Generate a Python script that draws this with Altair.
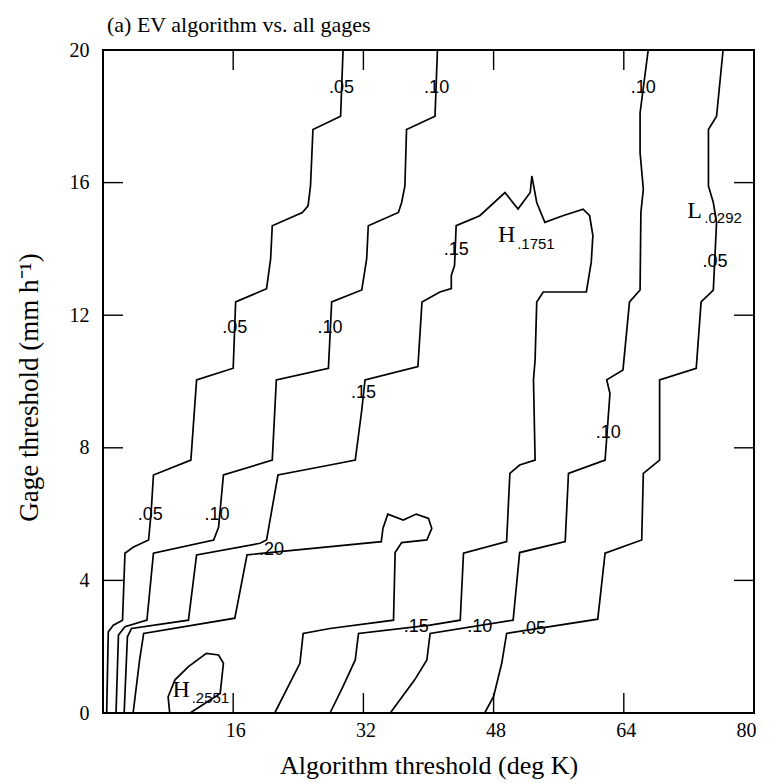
import altair as alt
import pandas as pd

# ---------------- data ----------------
# contour polylines: x = algorithm threshold (deg K), y = gage threshold (mm/h)
C05_LEFT_X = [0.45, 0.65, 1.27, 2.4, 2.7, 3.7, 5.6, 5.9, 6.2, 10.8, 11.5, 16.0, 16.3, 20.1, 20.6, 20.8, 24.5, 25.2, 25.5, 25.8, 29.2, 29.5]
C05_LEFT_Y = [0, 2.45, 2.65, 2.8, 4.82, 5.0, 5.22, 6.0, 7.18, 7.63, 10.05, 10.4, 12.4, 12.8, 13.7, 14.7, 15.1, 15.3, 15.9, 17.6, 18.0, 20]

C10_LEFT_X = [1.6, 1.9, 2.7, 5.4, 6.2, 13.6, 14.2, 14.8, 20.8, 21.3, 27.7, 28.1, 31.8, 32.4, 32.6, 36.3, 36.7, 37.1, 37.3, 40.8, 41.1]
C10_LEFT_Y = [0, 2.35, 2.6, 2.8, 4.82, 5.22, 5.6, 7.18, 7.63, 10.05, 10.4, 12.4, 12.76, 13.7, 14.7, 15.1, 15.4, 15.9, 17.6, 18.0, 20]

C15_X = [2.6, 3.0, 3.5, 10.5, 11.5, 19.3, 20.1, 21.5, 27.9, 31.0, 31.8, 32.2, 38.7, 39.2, 41.4,
         42.8, 42.8, 43.2, 43.4, 46.3, 49.4, 51.0, 52.5, 52.7, 53.3, 54.3, 56.5, 59.0, 59.8, 60.2,
         60.0, 59.4, 54.1, 53.3, 53.1, 52.9, 53.1, 51.2, 50.0, 49.6, 44.3, 43.9, 40.2, 31.4, 31.0, 29.5, 27.9]
C15_Y = [0, 2.3, 2.55, 2.8, 4.77, 5.12, 5.22, 7.18, 7.48, 7.63, 9.14, 10.05, 10.45, 12.4, 12.7,
         12.8, 13.2, 13.5, 14.7, 15.0, 15.7, 15.2, 15.7, 16.2, 15.4, 14.8, 15.0, 15.2, 15.0, 14.4,
         13.6, 12.7, 12.7, 12.4, 10.65, 10.05, 7.63, 7.48, 7.23, 5.17, 4.82, 2.8, 2.65, 2.4, 1.6, 0.8, 0]

C20_X = [3.7, 4.5, 5.0, 16.2, 17.7, 34.2, 34.4, 35.0, 36.9, 38.5, 40.0, 40.4, 39.8, 36.7, 35.9, 35.7, 27.9, 24.6, 24.2, 21.1]
C20_Y = [0, 1.6, 2.4, 2.86, 4.77, 5.17, 5.57, 6.0, 5.82, 6.0, 5.87, 5.57, 5.22, 5.14, 4.84, 2.8, 2.55, 2.4, 1.5, 0]

C25_X = [8.2, 8.0, 8.85, 10.5, 12.7, 14.2, 14.8, 14.4, 10.7]
C25_Y = [0, 0.49, 1.0, 1.4, 1.8, 1.75, 1.5, 0.59, 0]

C10_RIGHT_X = [35.3, 38.3, 39.8, 40.2, 50.4, 51.2, 56.8, 57.2, 61.7, 62.3, 61.9, 63.9, 64.7, 66.0, 66.1, 66.4, 66.0, 66.0, 67.0]
C10_RIGHT_Y = [0, 1.0, 1.6, 2.4, 2.8, 4.84, 5.17, 7.23, 7.63, 9.64, 10.05, 10.35, 12.4, 12.76, 15.1, 15.8, 16.9, 18.1, 20]

C05_RIGHT_X = [46.9, 48.0, 49.0, 49.6, 60.8, 61.7, 66.2, 66.4, 68.4, 68.4, 72.9, 73.5, 75.0, 75.4, 75.0, 74.4, 74.4, 75.4, 76.2]
C05_RIGHT_Y = [0, 0.5, 1.5, 2.4, 2.83, 4.82, 5.22, 7.23, 7.63, 10.05, 10.4, 12.4, 12.76, 14.8, 15.4, 15.9, 17.6, 18.0, 20]

# contour labels
LABEL_X = [29.3, 41.0, 66.4, 16.2, 27.9, 43.4, 32.0, 62.1, 75.2, 5.8, 14.0, 20.7, 38.5, 46.3, 52.9]
LABEL_Y = [18.85, 18.85, 18.85, 11.6, 11.6, 13.97, 9.64, 8.44, 13.6, 5.97, 5.97, 4.92, 2.6, 2.6, 2.52]
LABEL_TEXT = [".05", ".10", ".10", ".05", ".10", ".15", ".15", ".10", ".05", ".05", ".10", ".20", ".15", ".10", ".05"]

# extrema markers (letter + subscript value)
EXT_LETTER = ["H", "H", "L"]
EXT_X = [9.6, 49.6, 72.7]
EXT_Y = [0.68, 14.41, 15.13]
EXT_VALUE = [".2551", ".1751", ".0292"]
EXT_VALUE_X = [13.2, 53.2, 76.2]
EXT_VALUE_Y = [0.44, 14.14, 14.94]

X_LABELS = [16, 32, 48, 64, 80]
Y_LABELS = [0, 4, 8, 12, 16, 20]
X_INNER_TICKS = [16, 32, 48, 64]
Y_INNER_TICKS = [4, 8, 12, 16]

# ---------------- build tables ----------------
contours = [
    ("c05l", C05_LEFT_X, C05_LEFT_Y),
    ("c10l", C10_LEFT_X, C10_LEFT_Y),
    ("c15", C15_X, C15_Y),
    ("c20", C20_X, C20_Y),
    ("c25", C25_X, C25_Y),
    ("c10r", C10_RIGHT_X, C10_RIGHT_Y),
    ("c05r", C05_RIGHT_X, C05_RIGHT_Y),
]
rows = []
for name, xs, ys in contours:
    for i, (xv, yv) in enumerate(zip(xs, ys)):
        rows.append({"seg": name, "i": i, "x": xv, "y": yv})
lines_df = pd.DataFrame(rows)
labels_df = pd.DataFrame({"x": LABEL_X, "y": LABEL_Y, "t": LABEL_TEXT})
ext_df = pd.DataFrame({"x": EXT_X, "y": EXT_Y, "t": EXT_LETTER})
extv_df = pd.DataFrame({"x": EXT_VALUE_X, "y": EXT_VALUE_Y, "t": EXT_VALUE})
xt_df = pd.DataFrame({"x": X_INNER_TICKS})
yt_df = pd.DataFrame({"y": Y_INNER_TICKS})

W, H = 651, 663
TICK = 20
SERIF = "Liberation Serif"
SANS = "Liberation Sans"

xscale = alt.Scale(domain=[0, 80], nice=False, zero=False)
yscale = alt.Scale(domain=[0, 20], nice=False, zero=False)
XT = "Algorithm threshold (deg K)"
YT = "Gage threshold (mm h⁻¹)"
xaxis = alt.Axis(
    values=X_LABELS, title=XT, grid=False, ticks=False, domain=False, labelFont=SERIF,
    labelFontSize=20, labelColor="black", labelPadding=7, labelOffset=2,
    titleFont=SERIF, titleFontSize=26, titleFontWeight="normal", titleColor="black",
    titleY=60, titleBaseline="alphabetic")
yaxis = alt.Axis(
    values=Y_LABELS, title=YT, grid=False, ticks=False, domain=False, labelFont=SERIF,
    labelFontSize=20, labelColor="black", labelPadding=14,
    titleFont=SERIF, titleFontSize=27, titleFontWeight="normal", titleColor="black",
    titleX=-66, titleY=337, titleBaseline="alphabetic")


def X():
    return alt.X("x:Q", scale=xscale, axis=xaxis, title=XT)


def Y():
    return alt.Y("y:Q", scale=yscale, axis=yaxis, title=YT)


lines = alt.Chart(lines_df).mark_line(color="black", strokeWidth=1.7).encode(
    x=X(), y=Y(), detail="seg:N", order="i:Q")

lab = alt.Chart(labels_df).mark_text(font=SANS, fontSize=18, color="black",
                                      align="center", baseline="middle").encode(
    x=X(), y=Y(), text="t:N")

ext = alt.Chart(ext_df).mark_text(font=SERIF, fontSize=24, color="black",
                                   align="center", baseline="middle").encode(
    x=X(), y=Y(), text="t:N")

extv = alt.Chart(extv_df).mark_text(font=SANS, fontSize=15, color="black",
                                     align="center", baseline="middle").encode(
    x=X(), y=Y(), text="t:N")

tick_bottom = alt.Chart(xt_df).mark_rule(color="black", strokeWidth=1.4).encode(
    x=X(), y=alt.value(H), y2=alt.value(H - TICK))
tick_top = alt.Chart(xt_df).mark_rule(color="black", strokeWidth=1.4).encode(
    x=X(), y=alt.value(0), y2=alt.value(TICK))
tick_left = alt.Chart(yt_df).mark_rule(color="black", strokeWidth=1.4).encode(
    y=Y(), x=alt.value(0), x2=alt.value(TICK))
tick_right = alt.Chart(yt_df).mark_rule(color="black", strokeWidth=1.4).encode(
    y=Y(), x=alt.value(W - TICK), x2=alt.value(W))

chart = alt.layer(lines, lab, ext, extv, tick_bottom, tick_top, tick_left, tick_right).properties(
    width=W, height=H,
    autosize="none",
    background="white",
    padding={"left": 103, "top": 50, "right": 18, "bottom": 70},
    title=alt.TitleParams("(a) EV algorithm vs. all gages", anchor="start", frame="group",
                          font=SERIF, fontSize=22, fontWeight="normal", color="black",
                          dx=4, offset=3),
).configure_view(stroke="black", strokeWidth=2).configure_axis(
    grid=False, domain=False, ticks=False
)

chart.save("out.html", embed_options={"renderer": "svg", "actions": False})
